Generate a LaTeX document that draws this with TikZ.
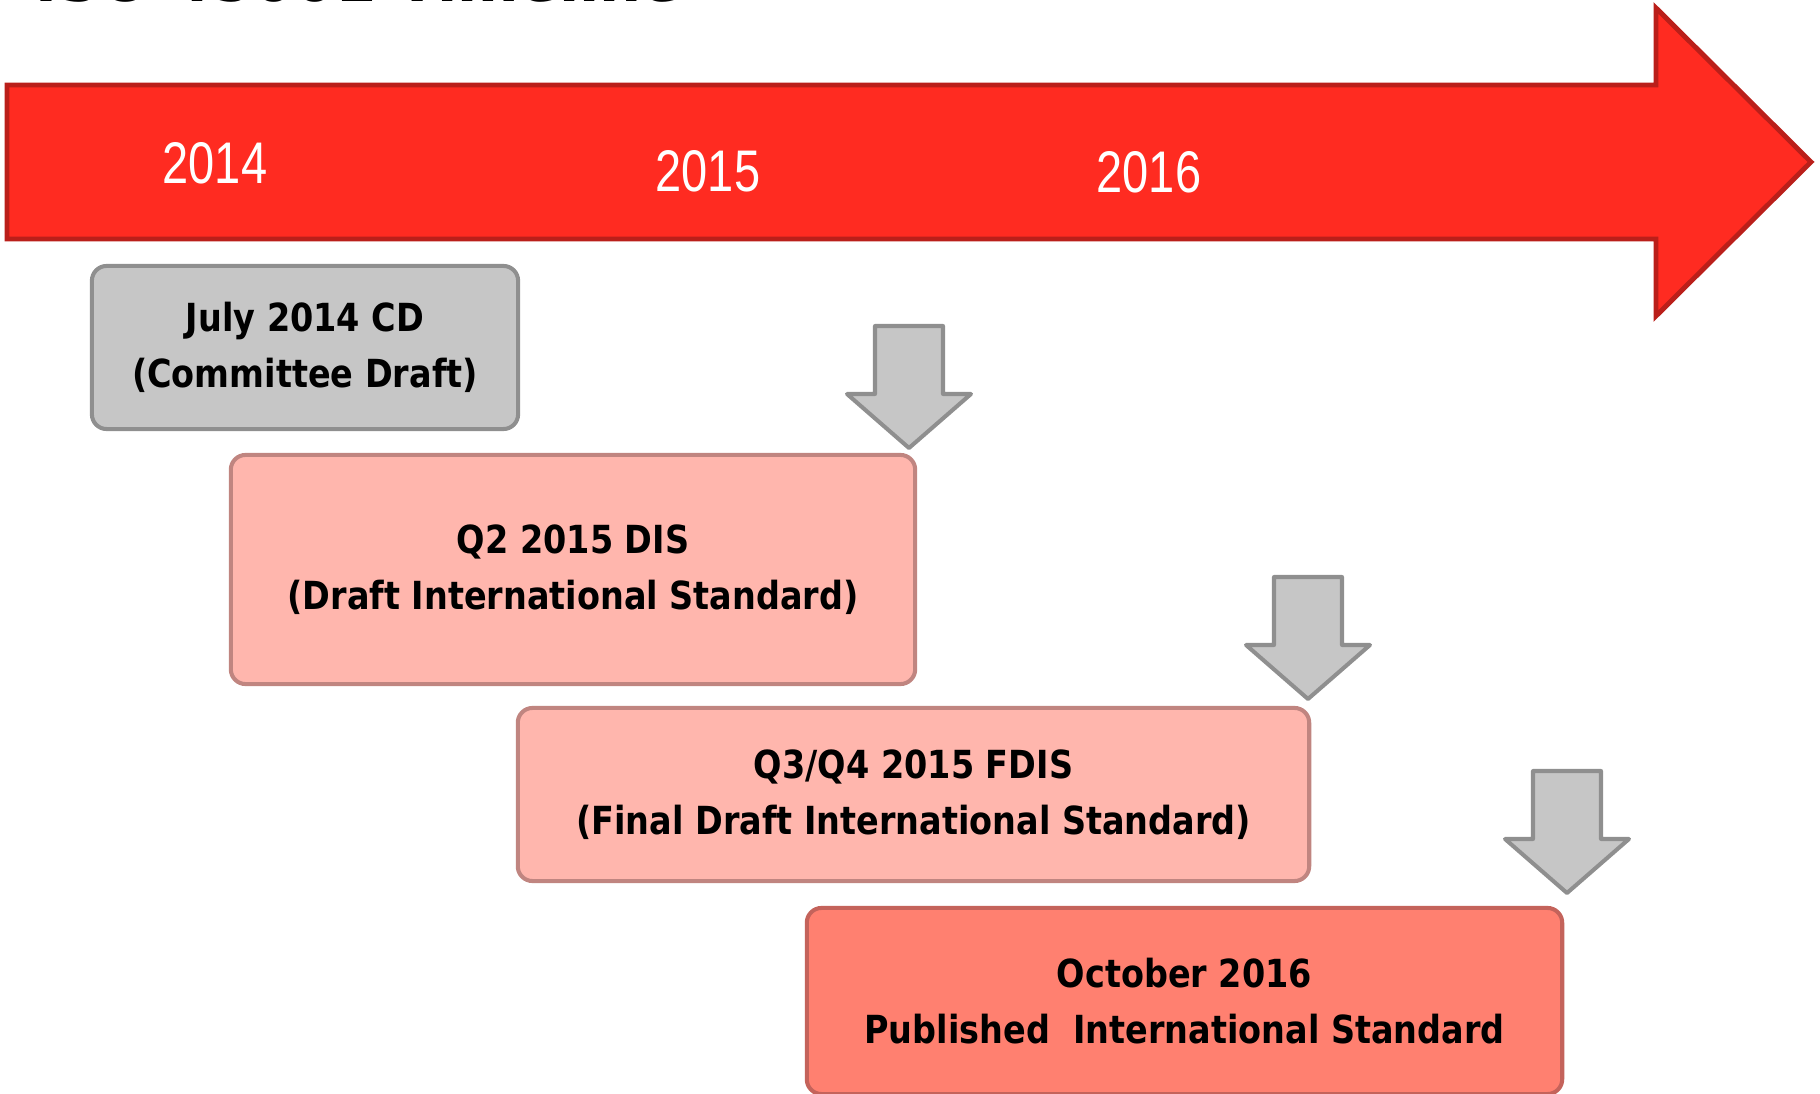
\documentclass[tikz,border=0pt]{standalone}
\usepackage{fontspec}
\setmainfont{DejaVu Sans}
\newfontfamily\boxfont{DejaVu Sans}[FakeStretch=0.865]
\newfontfamily\yearfont{Liberation Sans}[FakeStretch=0.8]

\definecolor{bandred}{RGB}{255,43,33}
\definecolor{bandline}{RGB}{186,31,26}
\definecolor{cdgray}{RGB}{198,198,198}
\definecolor{cdline}{RGB}{143,143,143}
\definecolor{dispink}{RGB}{255,182,173}
\definecolor{disline}{RGB}{192,133,128}
\definecolor{pubred}{RGB}{255,128,112}
\definecolor{publine}{RGB}{196,99,91}

\tikzset{
  stage/.style={rounded corners=4.2pt,line width=1.15pt,align=center,
    font=\boxfont\bfseries\fontsize{11}{15.9}\selectfont,inner sep=0pt},
  year/.style={text=white,font=\yearfont\fontsize{16.7}{18}\selectfont,inner sep=0pt},
  downarrow/.style={fill=cdgray,draw=cdline,line width=1.15pt,line join=round}
}

\begin{document}
\begin{tikzpicture}[x=0.01cm,y=-0.01cm]
\useasboundingbox (0,0) rectangle (1820,1094);

%title, cut off at the top
\node[anchor=base west,inner sep=0pt,font=\bfseries\fontsize{16.8}{18}\selectfont] (title) at (35,2) {ISO 45001 Timeline};

%time band
\begin{scope}
\coordinate (s1) at (7,85);
\coordinate (s2) at (1656,85);
\coordinate (h1) at (1656,8);
\coordinate (tip) at (1811,162);
\coordinate (h2) at (1656,316);
\coordinate (s3) at (1656,239);
\coordinate (s4) at (7,239);

\draw[fill=bandred,draw=bandline,line width=1.4pt] (s1) -- (s2) -- (h1) -- (tip) -- (h2) -- (s3) -- (s4) -- cycle;

\node[year] (y14) at (215,163) {2014};
\node[year] (y15) at (708,171) {2015};
\node[year] (y16) at (1149,172) {2016};
\end{scope}

%stages
\node[stage,fill=cdgray,draw=cdline,minimum width=4.26cm,minimum height=1.63cm] (cd) at (305,347.5)
  {July 2014 CD\\(Committee Draft)};
\node[stage,fill=dispink,draw=disline,minimum width=6.84cm,minimum height=2.29cm] (dis) at (573,569.5)
  {Q2 2015 DIS\\(Draft International Standard)};
\node[stage,fill=dispink,draw=disline,minimum width=7.91cm,minimum height=1.73cm] (fdis) at (913.5,794.5)
  {Q3/Q4 2015 FDIS\\(Final Draft International Standard)};
\node[stage,fill=pubred,draw=publine,minimum width=7.55cm,minimum height=1.86cm] (pub) at (1184.5,1001)
  {October 2016\\Published\ \ International Standard};

%down arrows
\foreach \x/\y in {909/326,1308/577,1567/771}
  \draw[downarrow] (\x-34,\y) -- (\x+34,\y) -- (\x+34,\y+68) -- (\x+62,\y+68)
    -- (\x,\y+122) -- (\x-62,\y+68) -- (\x-34,\y+68) -- cycle;

\end{tikzpicture}
\end{document}
